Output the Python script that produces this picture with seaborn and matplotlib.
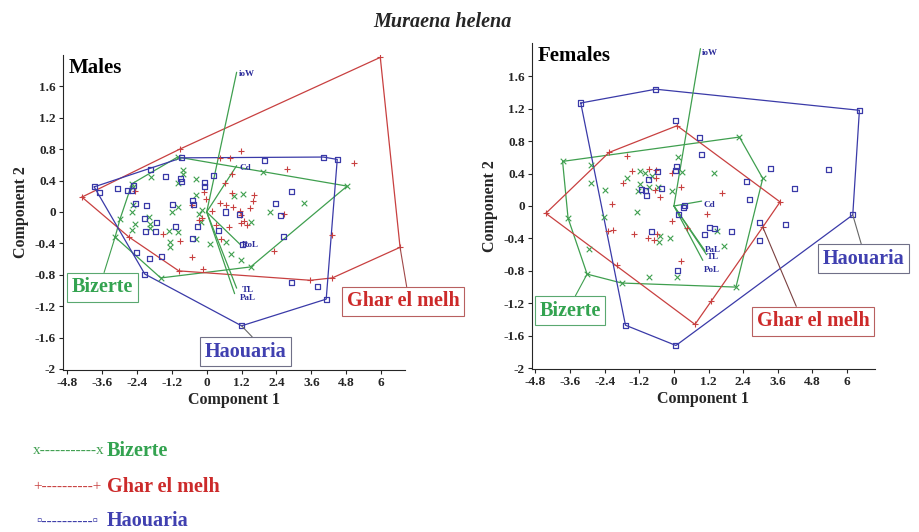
import numpy as np
import pandas as pd
import matplotlib
matplotlib.use("Agg")
import matplotlib.pyplot as plt
import seaborn as sns

# PCA scores (component 1, component 2)

# Males
males_biz_x = [-1.0, 4.83, 1.51, -1.58, -3.15, -2.57, -2.98,
               -0.83, -0.81, -0.38, -1.92, -2.55, -2.58, -2.46, -2.57, -2.0, -1.95,
               -1.31, -1.0, -1.2, -0.38, -0.15, -0.26, -0.21, -1.26, -1.26, 0.10,
               0.65, 0.82, 1.17, 0.94, 1.26, 1.93, 3.34, 2.17, 1.51, -1.0, -2.55,
               -1.95, -1.0, -0.38]
males_biz_y = [0.70, 0.33, -0.70, -0.84, -0.32, 0.36, -0.09,
               0.54, 0.49, 0.42, 0.45, 0.09, 0.0, -0.15, -0.23, -0.07, -0.21,
               -0.24, 0.07, 0.0, 0.22, 0.03, -0.02, -0.13, -0.38, -0.45, -0.41,
               -0.38, -0.53, -0.61, 0.20, 0.23, 0.51, 0.12, 0.0, -0.13, 0.37, 0.32,
               -0.15, -0.25, -0.35]

males_ghar_x = [5.97, -0.93, -4.29, -2.67, -0.96, 3.57, 4.32, 6.65,
                1.17, 0.80, 0.46, 0.88, 2.77, 5.05, 0.62, -2.46, -0.09, -0.03, -0.49,
                -0.15, -0.26, -1.49, -0.93, -0.51, -0.13, 0.65, 0.88, 0.46, 0.77,
                0.48, 1.17, 1.17, 1.62, 1.60, 0.90, 0.19, 1.49, 1.13, 1.28, 1.40,
                2.67, 0.31, 2.33, 4.32]
males_ghar_y = [1.97, 0.80, 0.19, -0.32, -0.75, -0.87, -0.84, -0.45,
                0.78, 0.69, 0.69, 0.49, 0.55, 0.63, 0.37, 0.27, 0.25, 0.17, 0.09,
                -0.08, -0.10, -0.28, -0.37, -0.57, -0.72, 0.09, 0.24, 0.12, -0.19,
                -0.34, -0.14, -0.04, 0.22, 0.14, 0.06, 0.01, 0.05, 0.01, -0.12, -0.17,
                -0.02, -0.17, -0.50, -0.29]

males_hao_x = [-3.87, -0.86, 4.01, 4.49, 4.11, 1.20, -2.13, -3.67,
               -3.06, -2.72, -2.58, -2.51, -1.92, -1.43, -0.89, -0.87, -0.09, -0.09,
               0.25, -2.46, -2.06, -1.16, -0.49, -0.47, -2.15, -1.71, -2.11, -1.75,
               -1.06, -0.32, -0.49, -2.43, -1.98, -1.54, 0.63, 1.13, 0.40, 1.22,
               2.0, 2.91, 2.37, 2.54, 2.63, 2.91, 3.80]
males_hao_y = [0.32, 0.69, 0.70, 0.67, -1.11, -1.45, -0.79, 0.25,
               0.30, 0.27, 0.27, 0.34, 0.54, 0.45, 0.43, 0.39, 0.37, 0.32,
               0.46, 0.11, 0.08, 0.10, 0.15, 0.10, -0.08, -0.14, -0.25, -0.25,
               -0.19, -0.19, -0.34, -0.51, -0.59, -0.57, 0.00, -0.03, -0.23, -0.41,
               0.66, 0.26, 0.11, -0.05, -0.31, -0.90, -0.95]

males_load_names = ["ioW", "Cd", "RoL", "TL", "PaL"]
males_load_x = [1.03, 1.03, 1.17, 1.03, 0.96]
males_load_y = [1.78, 0.59, -0.42, -0.97, -1.04]

# Females
females_biz_x = [-3.86, 2.27, 3.08, 2.15, -1.81, -3.01, -3.67,
                 -2.88, -2.88, -2.39, -1.64, -1.18, -1.01, -0.75, -1.18, -0.87, -0.54,
                 -1.24, 0.13, 0.29, -0.06, 1.40, -1.27, -2.42, -2.94, -0.49, -0.52,
                 -0.14, -0.86, 0.11, 1.48, 1.74]
females_biz_y = [0.55, 0.85, 0.34, -1.00, -0.95, -0.84, -0.15,
                 0.51, 0.28, 0.20, 0.34, 0.43, 0.41, 0.37, 0.27, 0.24, 0.24,
                 0.18, 0.60, 0.42, 0.19, 0.41, -0.07, -0.13, -0.53, -0.37, -0.45,
                 -0.40, -0.87, -0.88, -0.31, -0.49]

females_ghar_x = [0.11, 3.68, 3.08, 1.30, 0.73, -1.97, -4.44, -2.25,
                  -1.64, -1.47, -1.76, -0.87, -0.63, -0.62, -0.05, 0.24, -0.66, -0.49,
                  1.65, -2.16, 1.13, -0.08, -2.30, -2.10, -1.38, -0.89, -0.69, -0.60,
                  0.44, 0.23]
females_ghar_y = [0.99, 0.05, -0.26, -1.17, -1.46, -0.73, -0.09, 0.66,
                  0.62, 0.43, 0.28, 0.45, 0.44, 0.34, 0.41, 0.23, 0.20, 0.11,
                  0.16, 0.02, -0.10, -0.19, -0.31, -0.29, -0.35, -0.39, -0.42, -0.34,
                  -0.27, -0.68]

females_hao_x = [-3.23, -0.63, 6.43, 6.20, 0.07, -1.68,
                 0.06, 0.87, 0.96, 0.09, 0.05, -0.57, -0.89, -1.12, -0.97, -0.95,
                 -0.43, 3.36, 5.35, 2.50, 4.17, 2.61, 0.35, 0.33, 0.17, 2.98, 3.88,
                 1.25, 1.40, 1.07, 1.98, -0.77, 2.96, 0.11]
females_hao_y = [1.27, 1.44, 1.18, -0.11, -1.72, -1.47,
                 1.05, 0.85, 0.64, 0.49, 0.44, 0.42, 0.33, 0.20, 0.19, 0.13,
                 0.21, 0.46, 0.45, 0.30, 0.22, 0.08, 0.0, -0.02, -0.10, -0.20, -0.23,
                 -0.26, -0.28, -0.35, -0.32, -0.32, -0.43, -0.79]

females_load_names = ["ioW", "Cd", "PaL", "TL", "PoL"]
females_load_x = [0.92, 0.96, 1.07, 1.13, 1.00]
females_load_y = [1.94, 0.06, -0.55, -0.60, -0.67]

x_ticks = [-4.8, -3.6, -2.4, -1.2, 0, 1.2, 2.4, 3.6, 4.8, 6]
y_ticks = [-2, -1.6, -1.2, -0.8, -0.4, 0, 0.4, 0.8, 1.2, 1.6]

GREEN = "#3f9f4f"
RED = "#c84040"
BLUE = "#3a3aa8"
GREEN_TXT = "#33a350"
RED_TXT = "#cc2a2a"
BLUE_TXT = "#4040b0"
LOAD_TXT = "#2b2b9a"


def convex_hull(xs, ys):
    pts = sorted(set(zip(xs, ys)))

    def cross(o, a, b):
        return (a[0] - o[0]) * (b[1] - o[1]) - (a[1] - o[1]) * (b[0] - o[0])

    lower, upper = [], []
    for p in pts:
        while len(lower) >= 2 and cross(lower[-2], lower[-1], p) <= 0:
            lower.pop()
        lower.append(p)
    for p in reversed(pts):
        while len(upper) >= 2 and cross(upper[-2], upper[-1], p) <= 0:
            upper.pop()
        upper.append(p)
    h = lower[:-1] + upper[:-1]
    h.append(h[0])
    return [p[0] for p in h], [p[1] for p in h]


sns.set_style("ticks")
plt.rcParams["font.family"] = ["Liberation Serif", "DejaVu Serif"]
plt.rcParams["axes.unicode_minus"] = False

fig = plt.figure(figsize=(9.19, 5.32), dpi=100)
ax_m = fig.add_axes([0.0686, 0.3045, 0.3721, 0.5921])
ax_f = fig.add_axes([0.5789, 0.3064, 0.3732, 0.6128])


def draw_panel(ax, groups, load_names, load_x, load_y, load_offsets, title):
    # convex hulls
    for xs, ys, color, marker in groups:
        hx, hy = convex_hull(xs, ys)
        ax.plot(hx, hy, color=color, lw=0.9, zorder=2)
    # loading vectors
    for name, lx, ly, off in zip(load_names, load_x, load_y, load_offsets):
        ax.plot([0, lx], [0, ly], color=GREEN, lw=0.9, zorder=2)
        ax.annotate(name, (lx, ly), xytext=off, textcoords="offset points",
                    ha="left", va="center", fontsize=6.5, fontweight="bold",
                    color=LOAD_TXT, zorder=4)
    # scores
    for xs, ys, color, marker in groups:
        df = pd.DataFrame({"c1": xs, "c2": ys})
        if marker == "s":
            sns.scatterplot(data=df, x="c1", y="c2", ax=ax, marker="s", s=13,
                            color="none", edgecolor=color, linewidth=0.9, zorder=3)
        else:
            sns.scatterplot(data=df, x="c1", y="c2", ax=ax, marker=marker, s=16,
                            color=color, linewidth=0.8, zorder=3)

    ax.set_xticks(x_ticks)
    ax.set_xticklabels([str(v) for v in x_ticks])
    ax.set_yticks(y_ticks)
    ax.set_yticklabels([str(v) for v in y_ticks])
    ax.tick_params(direction="out", length=3, width=0.8, labelsize=9.5, pad=2)
    for lab in ax.get_xticklabels() + ax.get_yticklabels():
        lab.set_fontweight("bold")
    ax.set_xlabel("Component 1", fontsize=11.5, fontweight="bold", labelpad=2)
    ax.set_ylabel("Component 2", fontsize=11.5, fontweight="bold", labelpad=4)
    sns.despine(ax=ax)
    ax.text(0.015, 0.99, title, transform=ax.transAxes, ha="left", va="top",
            fontsize=15, fontweight="bold", color="black")


def label_box(ax, text, xy, center, relx, txtcolor, edgecolor, linecolor):
    ax.annotate(text, xy=xy, xytext=center, textcoords="data",
                ha="center", va="center", fontsize=14.5, fontweight="bold",
                color=txtcolor, annotation_clip=False, zorder=5,
                bbox=dict(boxstyle="square,pad=0.22", fc="white", ec=edgecolor, lw=0.8),
                arrowprops=dict(arrowstyle="-", color=linecolor, lw=0.8,
                                relpos=(relx, 1.0), shrinkA=0, shrinkB=0))


m_groups = [(males_biz_x, males_biz_y, GREEN, "x"),
            (males_ghar_x, males_ghar_y, RED, "+"),
            (males_hao_x, males_hao_y, BLUE, "s")]
draw_panel(ax_m, m_groups, males_load_names, males_load_x, males_load_y,
           [(1.5, -1.5), (2, -2), (1, 0), (3.5, -1), (4, -3)], "Males")
ax_m.set_xlim(-4.94, 6.82)
ax_m.set_ylim(-2.013, 2.0)

label_box(ax_m, "Bizerte", (males_biz_x[4], males_biz_y[4]), (-3.58, -0.96), 0.5,
          GREEN_TXT, "#5aa870", GREEN)
label_box(ax_m, "Ghar el melh", (males_ghar_x[7], males_ghar_y[7]), (6.75, -1.14), 0.54,
          RED_TXT, "#b86060", "#a04848")
label_box(ax_m, "Haouaria", (males_hao_x[5], males_hao_y[5]), (1.33, -1.78), 0.64,
          BLUE_TXT, "#707088", "#666666")

f_groups = [(females_biz_x, females_biz_y, GREEN, "x"),
            (females_ghar_x, females_ghar_y, RED, "+"),
            (females_hao_x, females_hao_y, BLUE, "s")]
draw_panel(ax_f, f_groups, females_load_names, females_load_x, females_load_y,
           [(1, -3), (1, -3), (0, 0.5), (0, -2), (1, -7)], "Females")
ax_f.set_xlim(-4.92, 6.97)
ax_f.set_ylim(-2.01, 2.01)

label_box(ax_f, "Bizerte", (females_biz_x[5], females_biz_y[5]), (-3.59, -1.29), 0.54,
          GREEN_TXT, "#5aa870", GREEN)
label_box(ax_f, "Ghar el melh", (females_ghar_x[2], females_ghar_y[2]), (4.82, -1.42), 0.37,
          RED_TXT, "#b86060", "#7a4040")
label_box(ax_f, "Haouaria", (females_hao_x[3], females_hao_y[3]), (6.57, -0.65), 0.49,
          BLUE_TXT, "#707088", "#666666")

fig.text(0.481, 1 - 22 / 532, "Muraena helena", ha="center", va="center",
         fontsize=14.5, fontweight="bold", style="italic")

# legend drawn as text rows
legend_rows = [("x-----------x", "Bizerte", GREEN, GREEN_TXT, 451, 33),
               ("+----------+", "Ghar el melh", RED, RED_TXT, 487, 33),
               ("\u25ab----------\u25ab", "Haouaria", BLUE, BLUE_TXT, 521, 36)]
for prefix, name, c1, c2, py, px in legend_rows:
    fig.text(px / 919, 1 - py / 532, prefix, ha="left", va="center", fontsize=11,
             color=c1, family=["Liberation Serif", "DejaVu Sans"])
    fig.text(107 / 919, 1 - py / 532, name, ha="left", va="center", fontsize=14.5,
             fontweight="bold", color=c2)

fig.savefig("out.png", dpi=100)
